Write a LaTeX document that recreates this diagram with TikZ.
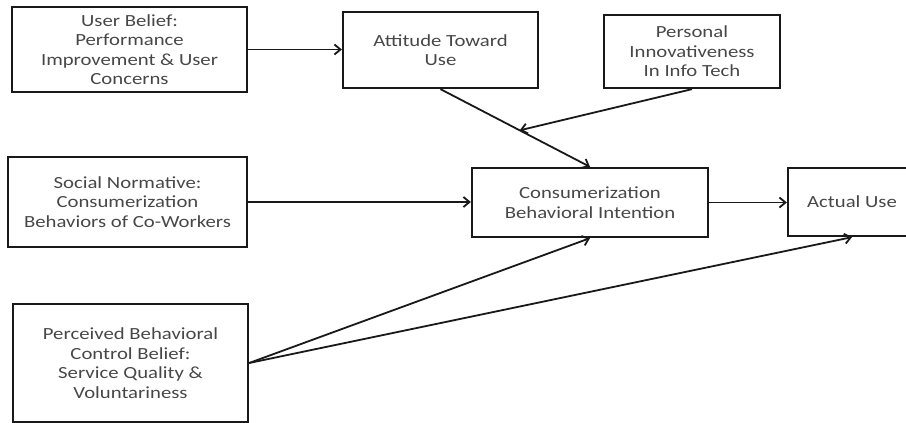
\documentclass[tikz,border=0pt]{standalone}
\usepackage{fontspec}
\setmainfont{Carlito}[FakeStretch=1.22]
\usetikzlibrary{arrows.meta,calc}
\begin{document}
\begin{tikzpicture}[x=1pt,y=-1pt,
  box/.style={draw=black!90, line width=2.3pt, align=center, inner sep=0pt,
    font=\fontsize{17}{19.5}\selectfont, text=black!72},
  arr/.style={draw=black!90, line width=1.8pt, -{Straight Barb[length=6pt,width=10pt,line width=1.8pt]}}]
\useasboundingbox (0,0) rectangle (906,423);
\clip (0,0) rectangle (906,423);
\node[box, minimum width=235pt, minimum height=85pt] (ub) at (129.5,49.5)
  {User Belief:\\Performance\\Improvement \& User\\Concerns};
\node[box, minimum width=195pt, minimum height=76pt] (att) at (440.5,50)
  {Attitude Toward\\Use};
\node[box, minimum width=176pt, minimum height=73pt] (pit) at (692,51.5)
  {Personal\\Innovativeness\\In Info Tech};
\node[box, minimum width=239pt, minimum height=90pt] (soc) at (127.5,202)
  {Social Normative:\\Consumerization\\Behaviors of Co-Workers};
\node[box, minimum width=236pt, minimum height=69pt] (ci) at (590,202.5)
  {Consumerization\\Behavioral Intention};
\node[box, minimum width=128pt, minimum height=68pt] (au) at (852,202)
  {Actual Use};
\node[box, minimum width=235pt, minimum height=118pt] (pbc) at (130.5,363)
  {Perceived Behavioral\\Control Belief:\\Service Quality \&\\Voluntariness};
\draw[arr] (ub.east) -- (ub.east -| att.west);
\draw[arr] (att.south) -- (ci.north);
\coordinate (mod) at ($(att.south)!0.53!(ci.north)$);
\draw[arr] (pit.south) -- (mod);
\draw[arr] (soc.east) -- (soc.east -| ci.west);
\draw[arr] (ci.east) -- (ci.east -| au.west);
\draw[arr] (pbc.east) -- (ci.south);
\draw[arr] (pbc.east) -- (au.south);
\end{tikzpicture}
\end{document}
